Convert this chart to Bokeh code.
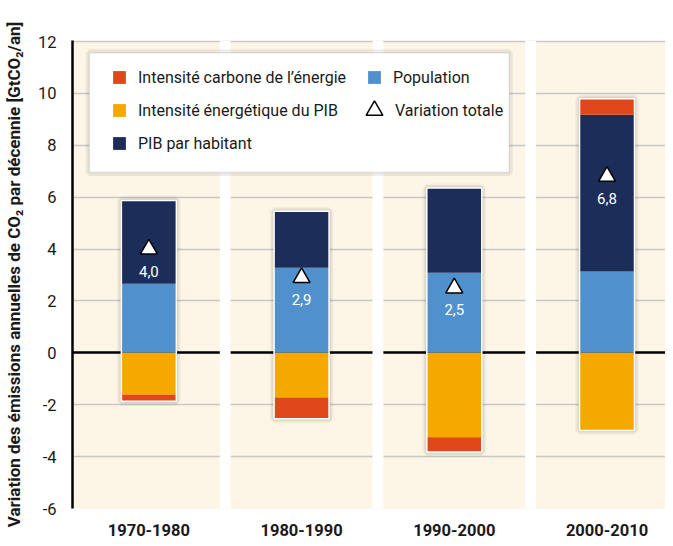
import numpy as np
from bokeh.plotting import figure
from bokeh.models import (ColumnDataSource, FixedTicker, Legend, LegendItem, BoxAnnotation)
from bokeh.core.properties import value
from bokeh.embed import file_html
from bokeh.resources import INLINE

FONT = "Roboto"

decades = ["1970-1980", "1980-1990", "1990-2000", "2000-2010"]
population = [2.66, 3.28, 3.09, 3.14]
pib_hab = [3.21, 2.18, 3.26, 6.04]
int_energie = [-1.62, -1.72, -3.25, -2.99]
int_carbone = [-0.25, -0.82, -0.57, 0.61]
total = [4.0, 2.9, 2.5, 6.8]
total_labels = ["4,0", "2,9", "2,5", "6,8"]
y_ticks = [-6, -4, -2, 0, 2, 4, 6, 8, 10, 12]

RED = "#e0471a"
ORANGE = "#f5a800"
NAVY = "#1c2d59"
BLUE = "#5091cd"
BEIGE = "#fdf5e6"

n = len(decades)
x = np.arange(1, n + 1)
pop = np.array(population)
pib = np.array(pib_hab)
ene = np.array(int_energie)
car = np.array(int_carbone)

pos_top = pop + pib
car_bottom = np.where(car >= 0, pos_top, ene + car)
car_top = np.where(car >= 0, pos_top + car, ene)
bar_top = pos_top + np.clip(car, 0, None)
bar_bottom = ene + np.clip(car, None, 0)

src = ColumnDataSource(dict(
    x=x, pop=pop, pos_top=pos_top, ene=ene, zero=np.zeros(n),
    car_bottom=car_bottom, car_top=car_top, bar_top=bar_top, bar_bottom=bar_bottom,
    total=total, lab=total_labels))

p = figure(width=665, height=538, output_backend="svg", toolbar_location=None,
           x_range=(0.5, 4.383), y_range=(-6, 12.04),
           min_border_left=65, min_border_right=0, min_border_top=40, min_border_bottom=29)
p.background_fill_color = BEIGE
p.border_fill_color = "white"
p.outline_line_color = None

# grid
p.xgrid.visible = False
p.ygrid.grid_line_color = "#c8c8c8"
p.ygrid.grid_line_width = 1.5
p.ygrid.ticker = FixedTicker(ticks=y_ticks)

# axes
p.yaxis.ticker = FixedTicker(ticks=y_ticks)
p.yaxis.major_label_overrides = {t: str(t) for t in y_ticks}
p.yaxis.axis_line_color = "black"
p.yaxis.axis_line_width = 2.5
p.yaxis.major_tick_line_color = None
p.yaxis.minor_tick_line_color = None
p.yaxis.major_label_standoff = 10
p.yaxis.major_label_text_font = FONT
p.yaxis.major_label_text_font_size = "16.5px"
p.yaxis.major_label_text_color = "#1a1a1a"
p.yaxis.axis_label = "Variation des émissions annuelles de CO₂ par décennie [GtCO₂/an]"
p.yaxis.axis_label_text_font = FONT
p.yaxis.axis_label_text_font_style = "bold"
p.yaxis.axis_label_text_font_size = "17px"
p.yaxis.axis_label_text_color = "#1a1a1a"
p.yaxis.axis_label_standoff = 11

p.xaxis.ticker = FixedTicker(ticks=list(x))
p.xaxis.major_label_overrides = {int(i): d for i, d in zip(x, decades)}
p.xaxis.axis_line_color = None
p.xaxis.major_tick_line_color = None
p.xaxis.minor_tick_line_color = None
p.xaxis.major_label_standoff = 9
p.xaxis.major_label_text_font = FONT
p.xaxis.major_label_text_font_style = "bold"
p.xaxis.major_label_text_font_size = "16.5px"
p.xaxis.major_label_text_color = "#1a1a1a"

# zero line
p.hspan(y=[0], line_color="black", line_width=2.5)

# white separating strips between decades
p.vbar(x=x[:-1] + 0.5, width=0.071, bottom=-6, top=12.04, fill_color="white", line_color=None)

BW = 0.36
# soft shadows
for lw, la in [(9, 0.035), (6, 0.05), (3, 0.08)]:
    p.vbar(x="x", width=BW, bottom="bar_bottom", top="bar_top", source=src,
           fill_color=None, line_color="black", line_alpha=la, line_width=lw)

r_pop = p.vbar(x="x", width=BW, bottom="zero", top="pop", source=src, fill_color=BLUE, line_color=None)
r_pib = p.vbar(x="x", width=BW, bottom="pop", top="pos_top", source=src, fill_color=NAVY, line_color=None)
r_ene = p.vbar(x="x", width=BW, bottom="ene", top="zero", source=src, fill_color=ORANGE, line_color=None)
r_car = p.vbar(x="x", width=BW, bottom="car_bottom", top="car_top", source=src, fill_color=RED, line_color=None)
p.vbar(x="x", width=BW, bottom="bar_bottom", top="bar_top", source=src,
       fill_color=None, line_color="white", line_width=1.5)

r_tot = p.scatter(x="x", y="total", source=src, marker="triangle", size=17,
                  fill_color="white", line_color="black", line_width=1.5)
p.text(x="x", y="total", text="lab", source=src, text_color="white", text_font=value(FONT),
       text_font_size="15px", text_align="center", text_baseline="middle", y_offset=22)

# legend box
p.add_layout(BoxAnnotation(left=0.61, right=3.36, top=11.57, bottom=6.95,
                           fill_color=None, line_color="black", line_alpha=0.07, line_width=7))
p.add_layout(BoxAnnotation(left=0.61, right=3.36, top=11.57, bottom=6.95,
                           fill_color="white", fill_alpha=1.0, line_color="#a8a8a8", line_width=1.5))

def mk_legend(items, loc, gw, gh):
    lg = Legend(items=items, location=loc, orientation="vertical",
                glyph_width=gw, glyph_height=gh, label_height=22, label_standoff=11,
                spacing=11, padding=0, margin=0,
                background_fill_alpha=0, border_line_color=None,
                label_text_font=FONT, label_text_font_size="16px", label_text_color="#1a1a1a")
    p.add_layout(lg)
    return lg

mk_legend([LegendItem(label="Intensité carbone de l’énergie", renderers=[r_car]),
           LegendItem(label="Intensité énergétique du PIB", renderers=[r_ene]),
           LegendItem(label="PIB par habitant", renderers=[r_pib])], (39, 354), 16, 16)
mk_legend([LegendItem(label="Population", renderers=[r_pop])], (294, 420), 16, 16)
lg3 = mk_legend([LegendItem(label="Variation totale", renderers=[r_tot])], (281, 377), 42, 42)
lg3.label_standoff = 0

open("out.html", "w").write(file_html(p, INLINE))
